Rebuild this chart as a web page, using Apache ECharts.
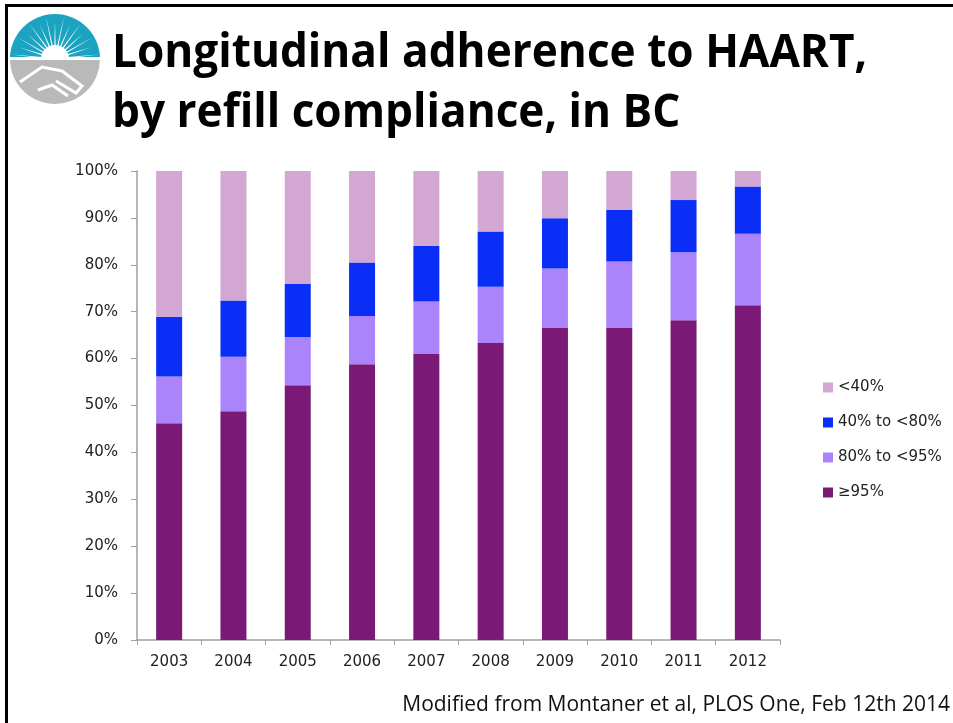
<!DOCTYPE html>
<html>
<head>
<meta charset="utf-8">
<script src="https://cdn.jsdelivr.net/npm/echarts@6/dist/echarts.min.js"></script>
<style>
    html, body { margin: 0; padding: 0; background: #fff; }
    #chart { width: 953px; height: 723px; }
</style>
</head>
<body>
<div id="chart"></div>
<script>
// years on the x axis
const years = ['2003', '2004', '2005', '2006', '2007', '2008', '2009', '2010', '2011', '2012']
// share of patients per refill-compliance band (%), stacked from the bottom
const ge95 = [46.2, 48.8, 54.3, 58.8, 61.0, 63.3, 66.5, 66.5, 68.2, 71.4]
const from80to95 = [10.0, 11.6, 10.3, 10.3, 11.2, 12.0, 12.7, 14.2, 14.5, 15.2]
const from40to80 = [12.7, 12.0, 11.3, 11.4, 11.8, 11.8, 10.7, 11.0, 11.1, 10.1]
const below40 = [31.1, 27.6, 24.1, 19.5, 16.0, 12.9, 10.1, 8.3, 6.2, 3.3]

const labelFont = 'DejaVu Sans'

// logo: sun over a handshake (decoration only)
const cx = 55, cy = 59, R = 45
const rays = []
for (let i = 0; i < 15; i++) {
    const a = Math.PI + (i + 0.5) * Math.PI / 15
    const w = 0.05
    const len = i % 2 ? 38 : 44
    rays.push({
        type: 'polygon',
        shape: {
            points: [
                [cx + 13 * Math.cos(a - w), cy + 13 * Math.sin(a - w)],
                [cx + len * Math.cos(a), cy + len * Math.sin(a)],
                [cx + 13 * Math.cos(a + w), cy + 13 * Math.sin(a + w)]
            ]
        },
        style: { fill: '#fff' }
    })
}
const logo = [
    { type: 'sector', shape: { cx, cy, r: R, startAngle: Math.PI, endAngle: 2 * Math.PI }, style: { fill: '#1ba3c2' } },
    { type: 'sector', shape: { cx, cy, r: R, startAngle: 0, endAngle: Math.PI }, style: { fill: '#b9b9b9' } },
    ...rays,
    { type: 'sector', shape: { cx, cy, r: 14, startAngle: Math.PI, endAngle: 2 * Math.PI }, style: { fill: '#fff' } },
    { type: 'rect', shape: { x: cx - R, y: cy - 2, width: 2 * R, height: 3 }, style: { fill: '#fff' } },
    {
        type: 'polyline',
        shape: { points: [[20, 82], [42, 67], [62, 71], [82, 86], [76, 93], [56, 81]] },
        style: { stroke: '#fff', lineWidth: 3, fill: null }
    },
    {
        type: 'polyline',
        shape: { points: [[38, 90], [52, 85], [68, 96]] },
        style: { stroke: '#fff', lineWidth: 3, fill: null }
    }
]

const titleStyle = {
    font: 'bold 46px "Open Sans"',
    fill: '#000',
    verticalAlign: 'middle'
}

const myChart = echarts.init(document.getElementById('chart'))
const options = {
    animation: false,
    legend: {
        orient: 'vertical',
        left: 818,
        top: 375,
        itemWidth: 10,
        itemHeight: 10,
        itemGap: 20,
        icon: 'rect',
        data: ['<40%', '40% to <80%', '80% to <95%', '≥95%'],
        textStyle: { fontFamily: labelFont, fontSize: 15, color: '#222' }
    },
    grid: {
        left: 137,
        right: 173,
        top: 171,
        bottom: 83
    },
    xAxis: {
        type: 'category',
        data: years,
        axisLine: { lineStyle: { color: '#a0a0a0', width: 1.5 } },
        axisTick: { show: true, length: 5, lineStyle: { color: '#a0a0a0' } },
        axisLabel: { fontFamily: labelFont, fontSize: 15, color: '#222', margin: 15 }
    },
    yAxis: {
        type: 'value',
        min: 0,
        max: 100,
        interval: 10,
        axisLine: { show: true, lineStyle: { color: '#a0a0a0', width: 1.5 } },
        axisTick: { show: true, length: 6, lineStyle: { color: '#a0a0a0' } },
        splitLine: { show: false },
        axisLabel: { formatter: '{value}%', fontFamily: labelFont, fontSize: 15, color: '#222', margin: 19 }
    },
    series: [
        { name: '≥95%', type: 'bar', stack: 'total', barWidth: 26, data: ge95, itemStyle: { color: '#7a1a76' } },
        { name: '80% to <95%', type: 'bar', stack: 'total', data: from80to95, itemStyle: { color: '#ab83fb' } },
        { name: '40% to <80%', type: 'bar', stack: 'total', data: from40to80, itemStyle: { color: '#0a2ef5' } },
        { name: '<40%', type: 'bar', stack: 'total', data: below40, itemStyle: { color: '#d3a7d3' } }
    ],
    graphic: [
        // slide border (top and left)
        { type: 'rect', shape: { x: 5, y: 4, width: 948, height: 3 }, style: { fill: '#000' } },
        { type: 'rect', shape: { x: 5, y: 4, width: 3, height: 719 }, style: { fill: '#000' } },
        ...logo,
        {
            type: 'text', x: 112, y: 54, scaleX: 0.96,
            style: Object.assign({ text: 'Longitudinal adherence to HAART,' }, titleStyle)
        },
        {
            type: 'text', x: 112, y: 114, scaleX: 0.96,
            style: Object.assign({ text: 'by refill compliance, in BC' }, titleStyle)
        },
        {
            type: 'text',
            x: 950,
            y: 705,
            style: {
                text: 'Modified from Montaner et al, PLOS One, Feb 12th 2014',
                font: '21px "Open Sans"',
                fill: '#111',
                align: 'right',
                verticalAlign: 'middle'
            }
        }
    ]
}
myChart.setOption(options)
</script>
</body>
</html>
